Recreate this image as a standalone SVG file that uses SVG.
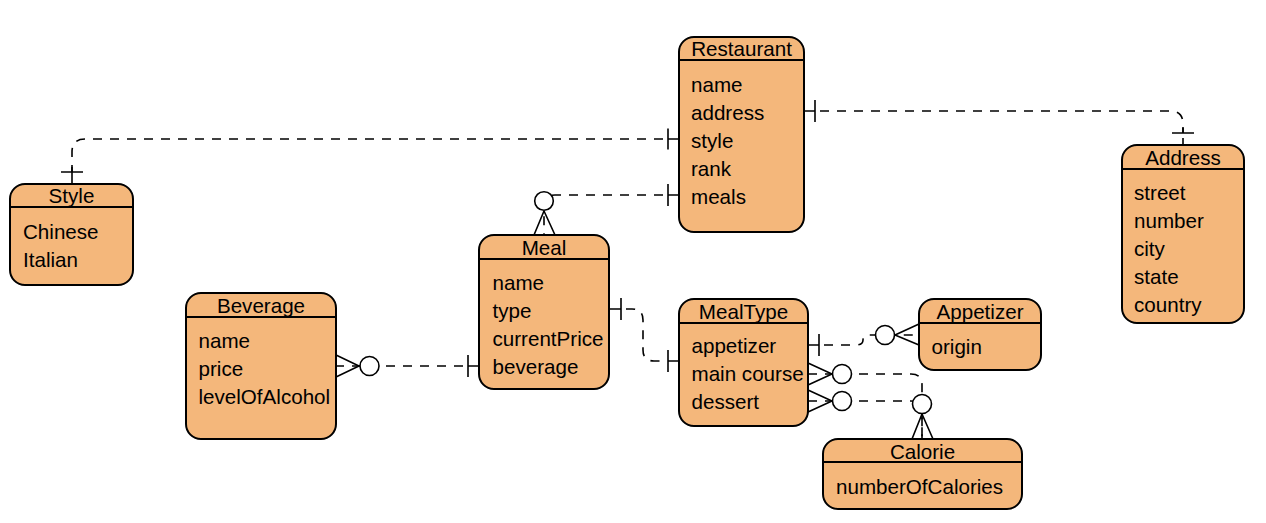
<svg xmlns="http://www.w3.org/2000/svg" width="1266" height="523" viewBox="0 0 1266 523">
<style>
.box{fill:#F4B77B;stroke:#000;stroke-width:2}
.hd{stroke:#000;stroke-width:2}
.t{font-family:"Liberation Sans",Arial,sans-serif;font-size:20.6px;fill:#000}
.c{text-anchor:middle}
.e{fill:none;stroke:#000;stroke-width:1.6;stroke-dasharray:9 8}
.m{fill:none;stroke:#000;stroke-width:1.6}
.o{fill:#fff;stroke:#000;stroke-width:1.6}
</style>
<rect width="1266" height="523" fill="#fff"/>
<g id="connectors">
  <!-- Restaurant style - Style -->
  <path class="e" d="M663,139 H85 Q72,139 72,152 V172"/>
  <path class="m" d="M679,139 H668 M668,128.5 V149.5 M72,184 V167 M61,172 H83"/>
  <!-- Restaurant address - Address -->
  <path class="e" d="M820,111 H1170 Q1183,111 1183,124 V133"/>
  <path class="m" d="M804,111 H815 M815,100 V122 M1172,133 H1194 M1183,128 V133 M1183,138 V145"/>
  <!-- Restaurant meals - Meal -->
  <path class="e" d="M663,195 H555 Q544,195 544,206 V235"/>
  <path class="m" d="M679,195 H668 M668,184 V206 M544,211 L534,235 M544,211 L555,235"/>
  <circle class="o" cx="544" cy="201" r="9.3"/>
  <!-- Beverage - Meal beverage -->
  <path class="e" d="M463,366 H336"/>
  <path class="m" d="M479,366 H468 M468,355 V377 M336,355 L359,366 L336,377"/>
  <circle class="o" cx="369.5" cy="366" r="9.5"/>
  <!-- Meal type - MealType -->
  <path class="e" d="M626,309 H632 Q643,309 643,320 V350 Q643,361 654,361 H663"/>
  <path class="m" d="M609,309 H621 M621,298 V320 M668,361 H679 M668,350 V372"/>
  <!-- MealType appetizer - Appetizer -->
  <path class="e" d="M824,345 H856 Q863,345 863,340 Q863,335 869,335 H919"/>
  <path class="m" d="M808,345 H819 M819,334 V356 M895,335 L919,324 M895,335 L919,345"/>
  <circle class="o" cx="885" cy="335" r="9.5"/>
  <!-- MealType main course - Calorie -->
  <path class="e" d="M808,374 H911 Q922,374 922,385 V439"/>
  <path class="m" d="M808,363 L832,374 L808,385"/>
  <circle class="o" cx="842" cy="374" r="9.5"/>
  <!-- MealType dessert - Calorie -->
  <path class="e" d="M808,401 H911 Q922,401 922,412 V439"/>
  <path class="m" d="M808,390 L832,401 L808,412"/>
  <circle class="o" cx="842" cy="401" r="9.5"/>
  <path class="m" d="M922,414 L912,439 M922,414 L933,439"/>
  <circle class="o" cx="922" cy="404" r="9.5"/>
</g>
<g id="restaurant">
  <rect class="box" x="679" y="37" width="125" height="195" rx="15"/>
  <line class="hd" x1="679" y1="60" x2="804" y2="60"/>
  <text class="t c" x="741.5" y="56">Restaurant</text>
  <text class="t" x="691" y="91.5">name</text>
  <text class="t" x="691" y="119.5">address</text>
  <text class="t" x="691" y="147.5">style</text>
  <text class="t" x="691" y="175.5">rank</text>
  <text class="t" x="691" y="203.5">meals</text>
</g>
<g id="style">
  <rect class="box" x="10" y="184" width="123" height="101" rx="15"/>
  <line class="hd" x1="10" y1="207" x2="133" y2="207"/>
  <text class="t c" x="71.5" y="202.5">Style</text>
  <text class="t" x="23" y="238.5">Chinese</text>
  <text class="t" x="23" y="266.5">Italian</text>
</g>
<g id="address">
  <rect class="box" x="1122" y="145" width="122" height="178" rx="15"/>
  <line class="hd" x1="1122" y1="169" x2="1244" y2="169"/>
  <text class="t c" x="1183" y="164.5">Address</text>
  <text class="t" x="1134" y="199.5">street</text>
  <text class="t" x="1134" y="227.5">number</text>
  <text class="t" x="1134" y="255.5">city</text>
  <text class="t" x="1134" y="283.5">state</text>
  <text class="t" x="1134" y="311.5">country</text>
</g>
<g id="meal">
  <rect class="box" x="479" y="235" width="130" height="154" rx="15"/>
  <line class="hd" x1="479" y1="259" x2="609" y2="259"/>
  <text class="t c" x="544" y="255">Meal</text>
  <text class="t" x="492.5" y="289.5">name</text>
  <text class="t" x="492.5" y="317.5">type</text>
  <text class="t" x="492.5" y="345.5">currentPrice</text>
  <text class="t" x="492.5" y="373.5">beverage</text>
</g>
<g id="beverage">
  <rect class="box" x="186" y="293" width="150" height="146" rx="15"/>
  <line class="hd" x1="186" y1="317" x2="336" y2="317"/>
  <text class="t c" x="261" y="313">Beverage</text>
  <text class="t" x="198.5" y="347.5">name</text>
  <text class="t" x="198.5" y="375.5">price</text>
  <text class="t" x="198.5" y="403.5">levelOfAlcohol</text>
</g>
<g id="mealtype">
  <rect class="box" x="679" y="299" width="129" height="127" rx="15"/>
  <line class="hd" x1="679" y1="323" x2="808" y2="323"/>
  <text class="t c" x="743.5" y="319">MealType</text>
  <text class="t" x="691.5" y="353">appetizer</text>
  <text class="t" x="691.5" y="381">main course</text>
  <text class="t" x="691.5" y="409">dessert</text>
</g>
<g id="appetizer">
  <rect class="box" x="919" y="299" width="122" height="71" rx="15"/>
  <line class="hd" x1="919" y1="323" x2="1041" y2="323"/>
  <text class="t c" x="980" y="319">Appetizer</text>
  <text class="t" x="931.5" y="353.5">origin</text>
</g>
<g id="calorie">
  <rect class="box" x="823" y="439" width="199" height="70" rx="15"/>
  <line class="hd" x1="823" y1="462" x2="1022" y2="462"/>
  <text class="t c" x="922.5" y="458.5">Calorie</text>
  <text class="t" x="836" y="493.5">numberOfCalories</text>
</g>
</svg>
